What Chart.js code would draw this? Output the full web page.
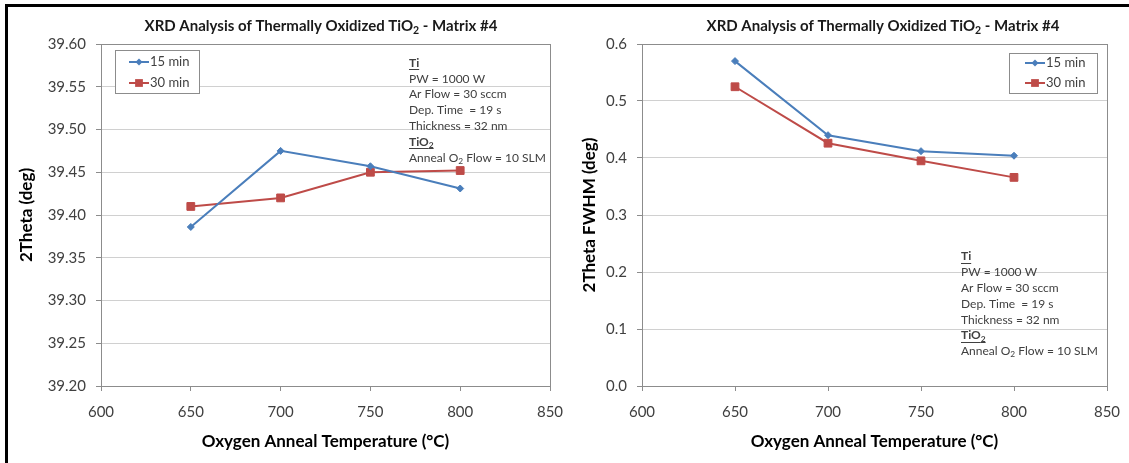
<!DOCTYPE html>
<html lang="en">
<head>
<meta charset="UTF-8">
<title>XRD Analysis of Thermally Oxidized TiO2 - Matrix #4</title>
<script src="https://cdn.jsdelivr.net/npm/chart.js"></script>
<style>
    body {
        margin: 0;
        background: #ffffff;
    }
    #frame {
        position: relative;
        width: 1129px;
        height: 463px;
        overflow: hidden;
    }
    /* black frame visible at top and left edge of the picture */
    #frame:before {
        content: '';
        position: absolute;
        left: 5px;
        top: 4px;
        right: 0;
        bottom: 0;
        border-top: 3px solid #000;
        border-left: 3px solid #000;
    }
    canvas {
        position: absolute;
        top: 0;
    }
    #thetaChart { left: 0; }
    #fwhmChart { left: 565px; }
</style>
</head>
<body>
<div id="frame">
    <canvas id="thetaChart" width="565" height="463"></canvas>
    <canvas id="fwhmChart" width="564" height="463"></canvas>
</div>

<script>
    // values
    const temperatures = [650, 700, 750, 800];
    const theta15 = [39.386, 39.475, 39.457, 39.431];
    const theta30 = [39.410, 39.420, 39.450, 39.452];
    const fwhm15 = [0.570, 0.440, 0.412, 0.404];
    const fwhm30 = [0.525, 0.426, 0.395, 0.366];
    const seriesLabels = ['15 min', '30 min'];

    const tempTicks = [600, 650, 700, 750, 800, 850];
    const thetaTicks = [39.20, 39.25, 39.30, 39.35, 39.40, 39.45, 39.50, 39.55, 39.60];
    const fwhmTicks = [0.0, 0.1, 0.2, 0.3, 0.4, 0.5, 0.6];

    const xTitle = 'Oxygen Anneal Temperature (°C)';
    const thetaTitle = '2Theta (deg)';
    const fwhmTitle = '2Theta FWHM (deg)';

    // text pieces: sub = subscript, b = bold, u = underline
    const chartTitle = [{ t: 'XRD Analysis of Thermally Oxidized TiO' }, { t: '2', sub: true }, { t: ' - Matrix #4' }];
    const noteLines = [
        [{ t: 'Ti', b: true, u: true }],
        [{ t: 'PW = 1000 W' }],
        [{ t: 'Ar Flow = 30 sccm' }],
        [{ t: 'Dep. Time  = 19 s' }],
        [{ t: 'Thickness = 32 nm' }],
        [{ t: 'TiO', b: true, u: true }, { t: '2', b: true, u: true, sub: true }],
        [{ t: 'Anneal O' }, { t: '2', sub: true }, { t: ' Flow = 10 SLM' }]
    ];

    const FONT = "Lato, 'Open Sans', sans-serif";
    const BLUE = '#4a7ebb';
    const RED = '#be4b48';
    const AXIS = '#8c8c8c';
    const GRID = '#d0d0d0';
    const TICK = '#404040';

    function pairs(ys) {
        return temperatures.map((t, i) => ({ x: t, y: ys[i] }));
    }

    // draw a line of mixed text (subscripts, bold, underline), returns width
    function richText(ctx, x, y, parts, size, weight, color, measureOnly) {
        let cx = x;
        parts.forEach(p => {
            const s = p.sub ? size * 0.7 : size;
            const w = (p.b || weight === 'bold') ? 'bold ' : '';
            ctx.font = w + s + 'px ' + FONT;
            const tw = ctx.measureText(p.t).width;
            if (!measureOnly) {
                ctx.fillStyle = color;
                ctx.textBaseline = 'middle';
                ctx.textAlign = 'left';
                ctx.fillText(p.t, cx, p.sub ? y + size * 0.28 : y);
                if (p.u) {
                    ctx.strokeStyle = color;
                    ctx.lineWidth = 1;
                    ctx.beginPath();
                    const uy = Math.round(y + size * 0.5) + 0.5;
                    ctx.moveTo(cx, uy);
                    ctx.lineTo(cx + tw, uy);
                    ctx.stroke();
                }
            }
            cx += tw;
        });
        return cx - x;
    }

    // keep the plot area where the picture has it: no extra room for edge labels
    function noEdgePadding(s) {
        s.paddingLeft = 0;
        s.paddingRight = 0;
        s.paddingTop = 0;
        s.paddingBottom = 0;
    }

    const decorPlugin = {
        id: 'decor',
        beforeDatasetsDraw(chart) {
            const { ctx, chartArea: a } = chart;
            ctx.save();
            ctx.strokeStyle = AXIS;
            ctx.lineWidth = 1;
            ctx.strokeRect(Math.round(a.left) + 0.5, Math.round(a.top) + 0.5,
                Math.round(a.right - a.left), Math.round(a.bottom - a.top));
            ctx.restore();
        },
        afterDraw(chart, args, o) {
            const ctx = chart.ctx;
            ctx.save();
            // title
            const tw = richText(ctx, 0, 0, chartTitle, 15, 'bold', '#000', true);
            richText(ctx, o.titleX - tw / 2, 26, chartTitle, 15, 'bold', '#1a1a1a');

            // legend box
            const L = o.legend;
            ctx.fillStyle = '#fff';
            ctx.fillRect(L.x, L.y, L.w, L.h);
            ctx.strokeStyle = '#8c8c8c';
            ctx.lineWidth = 1;
            ctx.strokeRect(L.x + 0.5, L.y + 0.5, L.w, L.h);
            chart.data.datasets.forEach((ds, i) => {
                const y = L.rows[i];
                ctx.strokeStyle = ds.borderColor;
                ctx.lineWidth = 2;
                ctx.beginPath();
                ctx.moveTo(L.lineX, y);
                ctx.lineTo(L.lineX + 20, y);
                ctx.stroke();
                ctx.fillStyle = ds.backgroundColor;
                ctx.lineWidth = 1;
                Chart.helpers.drawPoint(ctx, { pointStyle: ds.pointStyle, radius: ds.pointRadius, rotation: 0 }, L.lineX + 10, y);
                ctx.font = '13px ' + FONT;
                ctx.fillStyle = TICK;
                ctx.textBaseline = 'middle';
                ctx.textAlign = 'left';
                ctx.fillText(ds.label, L.lineX + 21, y);
            });

            // process notes
            noteLines.forEach((parts, i) => {
                richText(ctx, o.noteX, o.noteY + i * 15.8, parts, 12, 'normal', '#404040');
            });
            ctx.restore();
        }
    };

    function makeChart(id, cfg) {
        return new Chart(document.getElementById(id), {
            type: 'line',
            data: {
                datasets: [{
                    label: seriesLabels[0],
                    data: pairs(cfg.s15),
                    borderColor: BLUE,
                    backgroundColor: BLUE,
                    borderWidth: 2,
                    pointStyle: 'rectRot',
                    pointRadius: 3.5,
                    pointHoverRadius: 3.5,
                    pointBorderWidth: 1
                }, {
                    label: seriesLabels[1],
                    data: pairs(cfg.s30),
                    borderColor: RED,
                    backgroundColor: RED,
                    borderWidth: 2,
                    pointStyle: 'rect',
                    pointRadius: 5.5,
                    pointHoverRadius: 5.5,
                    pointBorderWidth: 1
                }]
            },
            options: {
                responsive: false,
                animation: false,
                layout: { padding: { top: 44, right: cfg.padRight, left: 0, bottom: 0 } },
                plugins: {
                    legend: { display: false },
                    tooltip: { enabled: false },
                    decor: cfg.decor
                },
                scales: {
                    x: {
                        type: 'linear',
                        min: 600,
                        max: 850,
                        afterBuildTicks: s => { s.ticks = tempTicks.map(v => ({ value: v })); },
                        afterFit: s => { s.height = 77; noEdgePadding(s); },
                        grid: { drawOnChartArea: false, drawTicks: true, tickLength: 5, tickColor: AXIS },
                        border: { color: AXIS },
                        ticks: { padding: 12, color: TICK, font: { family: FONT, size: 15 } },
                        title: {
                            display: true,
                            text: xTitle,
                            color: '#000',
                            font: { family: FONT, size: 17, weight: 'bold' },
                            padding: { top: 0, bottom: 11 }
                        }
                    },
                    y: {
                        type: 'linear',
                        min: cfg.ticks[0],
                        max: cfg.ticks[cfg.ticks.length - 1],
                        afterBuildTicks: s => { s.ticks = cfg.ticks.map(v => ({ value: v })); },
                        afterFit: s => { s.width = cfg.yWidth; noEdgePadding(s); },
                        grid: { color: GRID, tickColor: AXIS, tickLength: 5 },
                        border: { color: AXIS },
                        ticks: {
                            padding: 10,
                            color: TICK,
                            font: { family: FONT, size: 15 },
                            callback: v => v.toFixed(cfg.decimals)
                        },
                        title: {
                            display: true,
                            text: cfg.yTitle,
                            color: '#000',
                            font: { family: FONT, size: 17, weight: 'bold' },
                            padding: { top: cfg.yTitlePad, bottom: 0 }
                        }
                    }
                }
            },
            plugins: [decorPlugin]
        });
    }

    makeChart('thetaChart', {
        s15: theta15,
        s30: theta30,
        ticks: thetaTicks,
        decimals: 2,
        yTitle: thetaTitle,
        yWidth: 101,
        yTitlePad: 16,
        padRight: 15,
        decor: {
            titleX: 321,
            legend: { x: 115, y: 50, w: 84, h: 43, rows: [62, 83], lineX: 129 },
            noteX: 409,
            noteY: 63
        }
    });

    makeChart('fwhmChart', {
        s15: fwhm15,
        s30: fwhm30,
        ticks: fwhmTicks,
        decimals: 1,
        yTitle: fwhmTitle,
        yWidth: 77,
        yTitlePad: 14,
        padRight: 22,
        decor: {
            titleX: 318,
            legend: { x: 444, y: 53, w: 88, h: 40, rows: [63, 83], lineX: 460 },
            noteX: 396,
            noteY: 256.5
        }
    });
</script>
</body>
</html>
